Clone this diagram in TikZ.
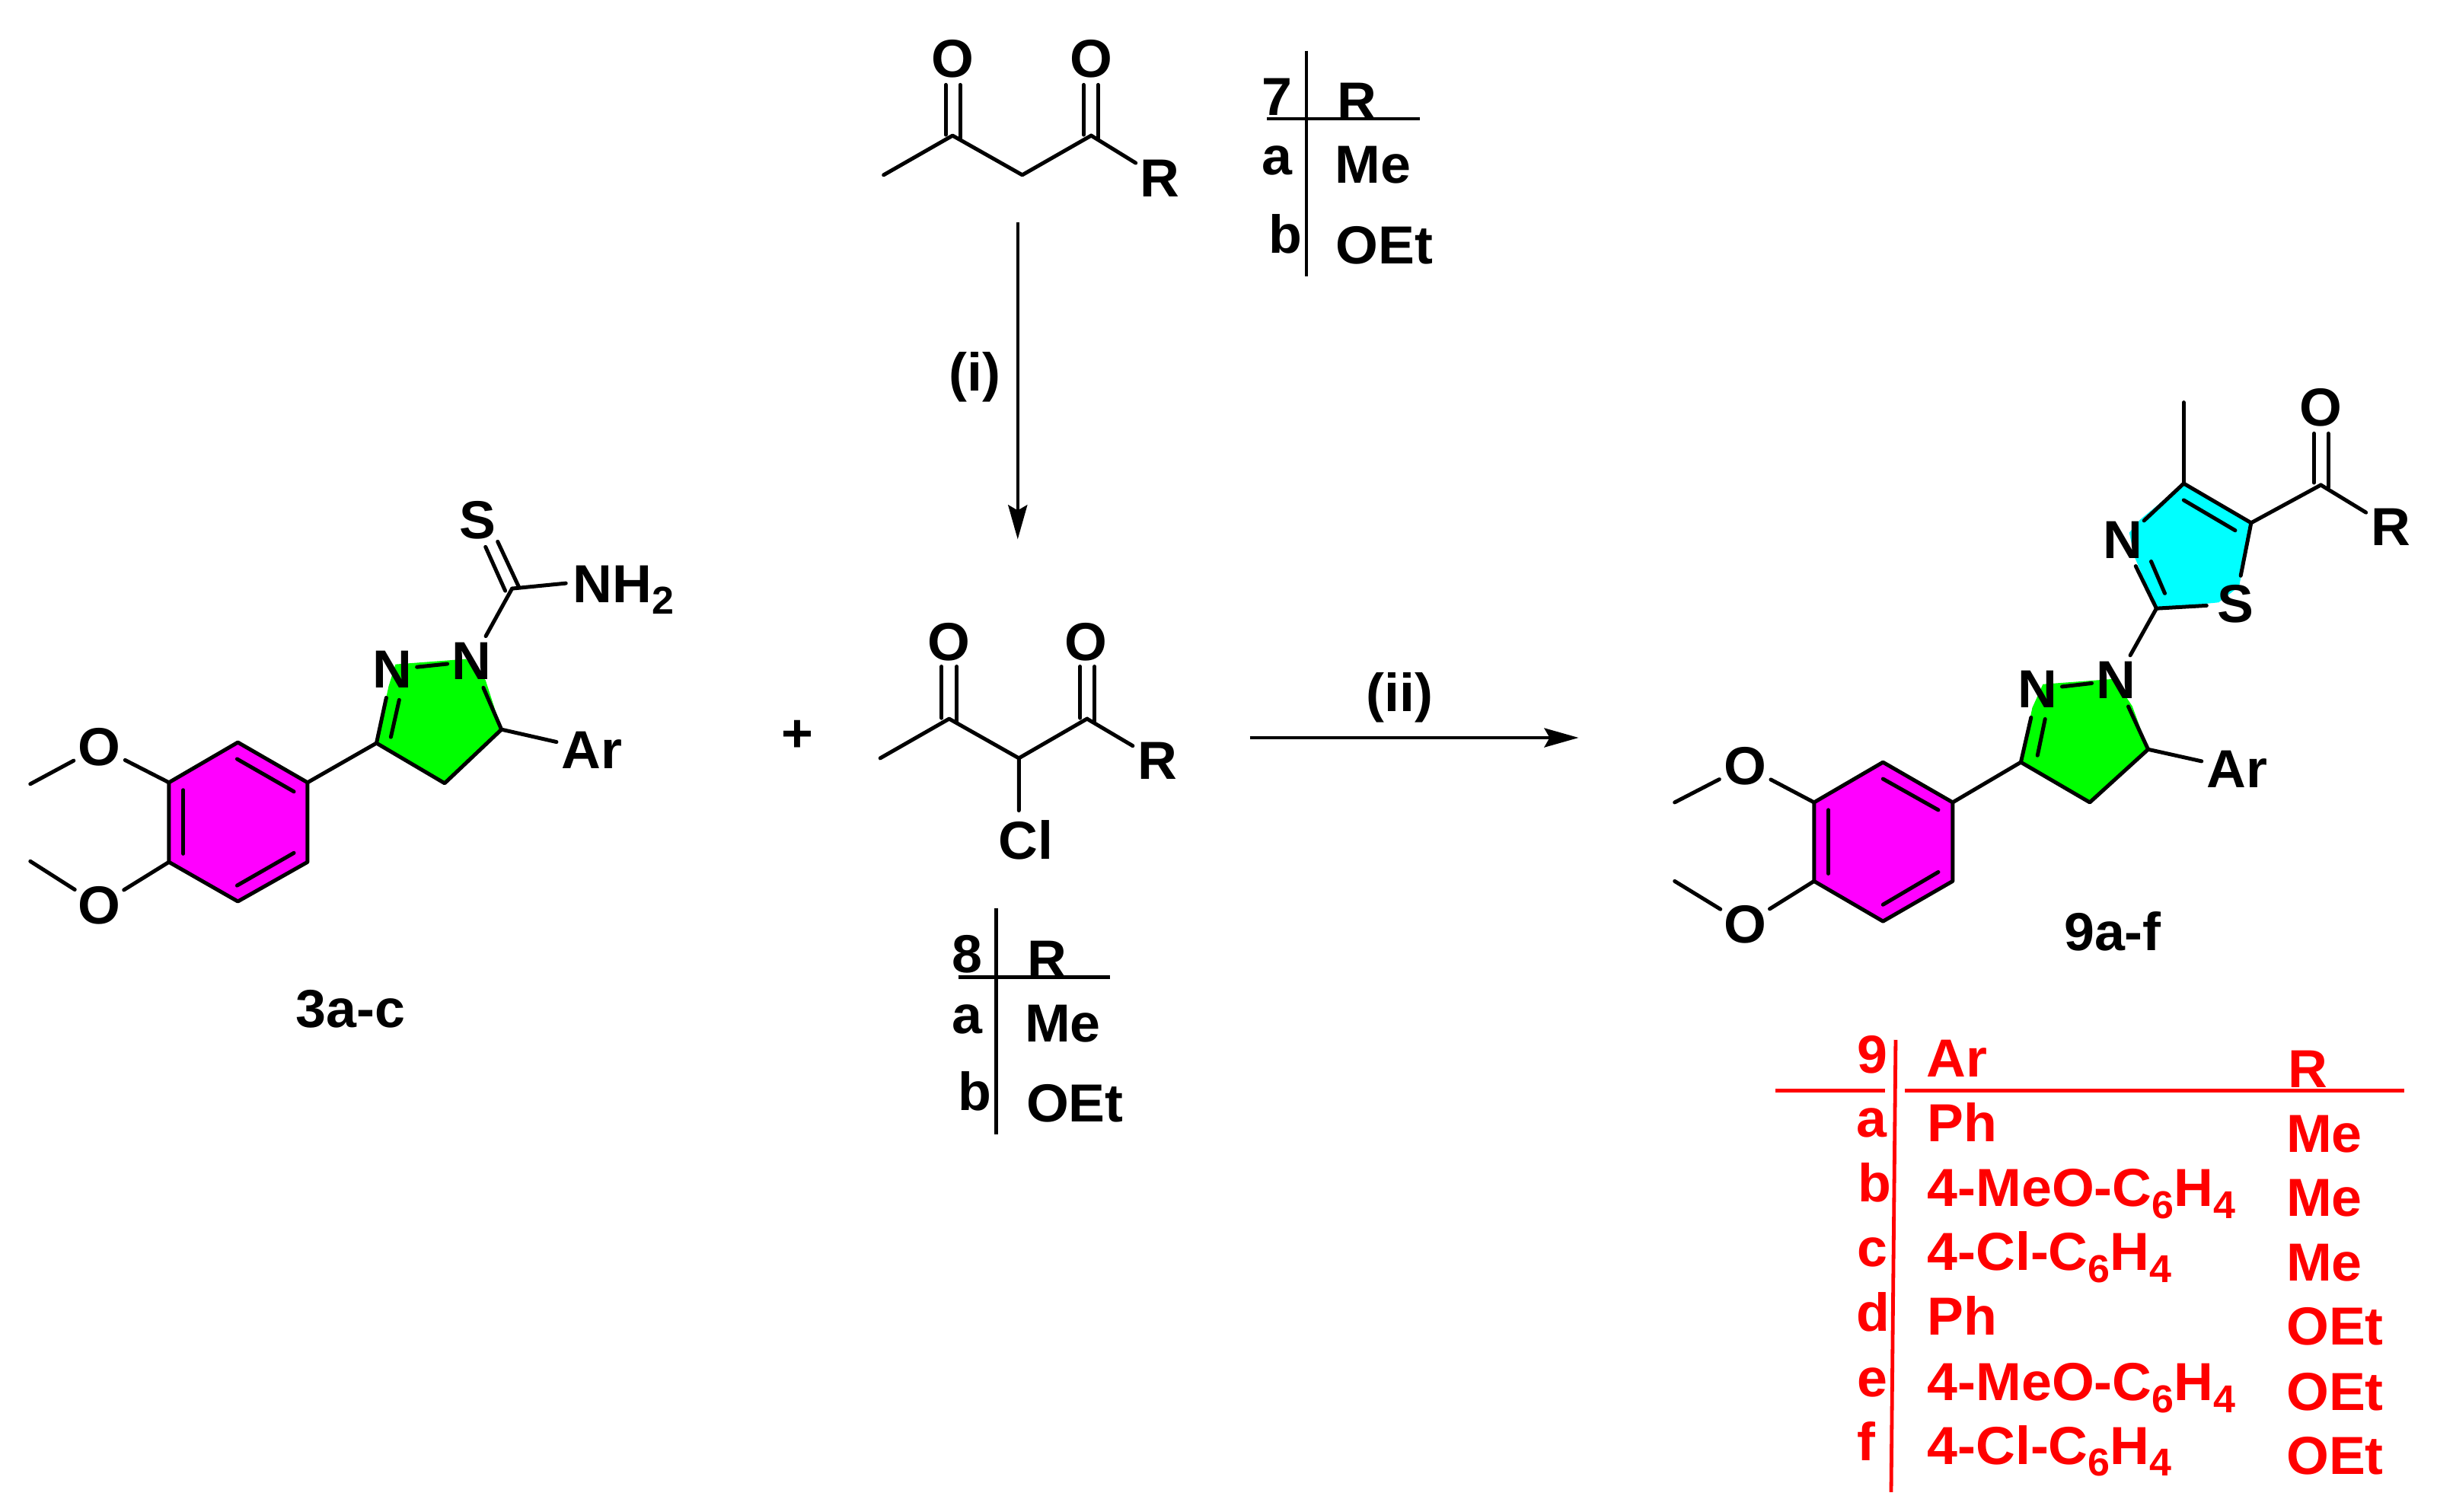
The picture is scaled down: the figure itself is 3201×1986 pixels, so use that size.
\documentclass[tikz,border=0pt]{standalone}
\usepackage{fontspec}
\setmainfont{Liberation Sans}[FakeStretch=1.02]
\usetikzlibrary{arrows.meta}
\newcommand{\chemsub}[1]{\raisebox{-4.5pt}{\fontsize{14.5}{14.5}\selectfont #1}}
\definecolor{ringmag}{RGB}{255,0,255}
\definecolor{ringgrn}{RGB}{0,255,0}
\definecolor{ringcya}{RGB}{0,255,255}
\definecolor{tabred}{RGB}{255,0,0}
\tikzset{
  bond/.style={draw=black,line width=0.5mm,line cap=round,line join=round},
  rule/.style={draw=black,line width=0.45mm},
  redrule/.style={draw=tabred,line width=0.48mm},
  rxn/.style={draw=black,line width=0.45mm,-{Stealth[length=4.5mm,width=2.5mm,inset=0.7mm]}},
  atom/.style={circle,inner sep=0pt,minimum size=7.4mm,yshift=0.2mm,font=\fontsize{20}{20}\selectfont\bfseries},
  lab/.style={inner sep=0pt,font=\fontsize{20}{20}\selectfont\bfseries},
  blab/.style={lab,yshift=-0.2mm},
  redlab/.style={lab,text=tabred,anchor=base west},
  redmid/.style={lab,text=tabred,anchor=base},
  region/.style args={#1 and #2}{shift={(#1,#2)},scale=0.995,shift={(-#1,-#2)}},
}
\tikzset{atom/.append style={yshift=-0.4mm}}
\begin{document}
\begin{tikzpicture}[x=0.01cm,y=-0.01cm]
\useasboundingbox (0,0) rectangle (3201,1986);

%% ---------- compound 3a-c ----------
\begin{scope}[region=0 and 600]
\coordinate (a1) at (314,977); \coordinate (a2) at (406,1030); \coordinate (a3) at (406,1135);
\coordinate (a4) at (314,1187); \coordinate (a5) at (223,1135); \coordinate (a6) at (223,1030);
\coordinate (ac3) at (497,978); \coordinate (ac4) at (587,1031); \coordinate (ac5) at (662,960);
\coordinate (acs) at (676,774);
\fill[ringmag] (a1)--(a2)--(a3)--(a4)--(a5)--(a6)--cycle;
\fill[ringgrn] (ac3)--(ac4)--(ac5)--(641,895)--(615,867)--(522,874)--(513,903)--cycle;
\node[atom] (ao1) at (131,981) {O};
\node[atom] (ao2) at (131,1190) {O};
\node[atom] (an2) at (518,879) {N};
\node[atom] (an1) at (623,868) {N};
\node[atom] (as) at (631,682) {S};
\node[atom] (aar) at (781,985) {Ar};
\node[lab,anchor=base west] (anh) at (756,792) {NH\chemsub{2}};
\coordinate (anhe) at (747,767);
\coordinate (ame1) at (40,1032); \coordinate (ame2) at (40,1134);
\draw[bond] (a1)--(a2)--(a3)--(a4)--(a5)--(a6)--cycle;
\coordinate (ai1) at (313,999); \coordinate (ai2) at (388,1042);
\coordinate (ai3) at (242,1040); \coordinate (ai4) at (242,1124);
\coordinate (ai5) at (313,1166); \coordinate (ai6) at (388,1123);
\draw[bond] (ai1)--(ai2); \draw[bond] (ai3)--(ai4); \draw[bond] (ai5)--(ai6);
\draw[bond] (a6)--(ao1); \draw[bond] (ao1)--(ame1);
\draw[bond] (a5)--(ao2); \draw[bond] (ao2)--(ame2);
\draw[bond] (a2)--(ac3);
\draw[bond] (ac3)--(ac4)--(ac5);
\draw[bond] (ac5)--(an1);
\draw[bond,shorten <=-1.5pt,shorten >=-1.5pt] (an2)--(an1);
\draw[bond] (ac3)--(an2);
\coordinate (ad1) at (516,970); \coordinate (ad2) at (527,921);
\draw[bond] (ad1)--(ad2);
\draw[bond] (ac5)--(aar);
\draw[bond] (acs)--(an1);
\draw[bond] (acs)--(anhe);
\coordinate (asa1) at (641,719); \coordinate (asa2) at (667,777);
\coordinate (asb1) at (657,712); \coordinate (asb2) at (685,772);
\draw[bond] (asa1)--(asa2); \draw[bond] (asb1)--(asb2);
\node[blab] (lab3) at (463,1327) {3a-c};
\end{scope}

%% ---------- diketone 7 ----------
\begin{scope}[region=1100 and 0]
\coordinate (bme) at (1161,231); \coordinate (bc1) at (1252,179); \coordinate (bc2) at (1344,231);
\coordinate (bc3) at (1435,179);
\node[atom] (bo1) at (1252,76) {O};
\node[atom] (bo2) at (1435,76) {O};
\node[atom] (br) at (1526,233) {R};
\draw[bond] (bme)--(bc1)--(bc2)--(bc3);
\draw[bond] (bc3)--(br);
\coordinate (bd1) at (1243,112); \coordinate (bd2) at (1243,178);
\coordinate (bd3) at (1262,112); \coordinate (bd4) at (1262,182);
\coordinate (bd5) at (1425,112); \coordinate (bd6) at (1425,178);
\coordinate (bd7) at (1444,112); \coordinate (bd8) at (1444,182);
\draw[bond] (bd1)--(bd2); \draw[bond] (bd3)--(bd4); \draw[bond] (bd5)--(bd6); \draw[bond] (bd7)--(bd8);

%% table 7
\coordinate (t7a) at (1719,67); \coordinate (t7b) at (1719,365);
\coordinate (t7c) at (1667,157); \coordinate (t7d) at (1869,157);
\draw[rule] (t7a)--(t7b); \draw[rule] (t7c)--(t7d);
\node[blab] (t7n) at (1680,126) {7};
\node[blab] (t7r) at (1786,132) {R};
\node[blab] (t7ka) at (1680,210) {a};
\node[blab] (t7ma) at (1807,216) {Me};
\node[blab] (t7kb) at (1691,307) {b};
\node[blab] (t7mb) at (1822,322) {OEt};

%% arrow (i)
\coordinate (ar1a) at (1338,293); \coordinate (ar1b) at (1338,712);
\draw[rxn] (ar1a)--(ar1b);
\node[blab] (li) at (1281,496) {(i)};
\end{scope}

%% ---------- chloro diketone 8 ----------
\begin{scope}[region=1000 and 780]
\node[lab] (plus) at (1048,968) {+};
\coordinate (cme) at (1157,997); \coordinate (cc1) at (1248,945); \coordinate (cc2) at (1340,997);
\coordinate (cc3) at (1430,945);
\node[atom] (co1) at (1248,842) {O};
\node[atom] (co2) at (1429,842) {O};
\node[atom] (cr) at (1523,998) {R};
\node[atom] (ccl) at (1349,1103) {Cl};
\draw[bond] (cme)--(cc1)--(cc2)--(cc3);
\draw[bond] (cc3)--(cr);
\draw[bond] (cc2)--(1340,1066) coordinate (cclend);
\coordinate (cd1) at (1238,876); \coordinate (cd2) at (1238,944);
\coordinate (cd3) at (1258,876); \coordinate (cd4) at (1258,948);
\coordinate (cd5) at (1421,876); \coordinate (cd6) at (1421,944);
\coordinate (cd7) at (1440,876); \coordinate (cd8) at (1440,948);
\draw[bond] (cd1)--(cd2); \draw[bond] (cd3)--(cd4); \draw[bond] (cd5)--(cd6); \draw[bond] (cd7)--(cd8);

%% table 8
\coordinate (t8a) at (1310,1195); \coordinate (t8b) at (1310,1494);
\coordinate (t8c) at (1260,1286); \coordinate (t8d) at (1460,1286);
\draw[rule] (t8a)--(t8b); \draw[rule] (t8c)--(t8d);
\node[blab] (t8n) at (1272,1254) {8};
\node[blab] (t8r) at (1377,1261) {R};
\node[blab] (t8ka) at (1272,1340) {a};
\node[blab] (t8ma) at (1398,1345) {Me};
\node[blab] (t8kb) at (1282,1435) {b};
\node[blab] (t8mb) at (1414,1451) {OEt};

%% arrow (ii)
\coordinate (ar2a) at (1645,970); \coordinate (ar2b) at (2079,970);
\draw[rxn] (ar2a)--(ar2b);
\node[blab] (lii) at (1843,915) {(ii)};
\end{scope}

%% ---------- compound 9a-f ----------
\begin{scope}[region=2150 and 450]
\coordinate (d1) at (2475,1004); \coordinate (d2) at (2567,1057); \coordinate (d3) at (2567,1161);
\coordinate (d4) at (2475,1214); \coordinate (d5) at (2384,1161); \coordinate (d6) at (2384,1057);
\coordinate (dc3) at (2657,1004); \coordinate (dc4) at (2748,1057); \coordinate (dc5) at (2825,987);
\coordinate (e2) at (2836,801); \coordinate (e4) at (2872,636); \coordinate (e5) at (2961,688);
\coordinate (eac) at (3053,638);
\fill[ringmag] (d1)--(d2)--(d3)--(d4)--(d5)--(d6)--cycle;
\fill[ringgrn] (dc3)--(dc4)--(dc5)--(2804,930)--(2780,894)--(2686,901)--(2672,932)--cycle;
\fill[ringcya] (e2)--(2807,733)--(2800,701)--(2814,684)--(e4)--(e5)--(2945,772)--(2918,793)--cycle;
\node[atom] (do1) at (2293,1007) {O};
\node[atom] (do2) at (2293,1216) {O};
\node[atom] (dn2) at (2679,906) {N};
\node[atom] (dn1) at (2783,894) {N};
\node[atom] (dar) at (2942,1011) {Ar};
\node[atom] (en) at (2792,709) {N};
\node[atom] (es) at (2940,793) {S};
\node[atom] (eo) at (3053,534) {O};
\node[atom] (er) at (3145,692) {R};
\coordinate (dme1) at (2200,1057); \coordinate (dme2) at (2200,1161);
\draw[bond] (d1)--(d2)--(d3)--(d4)--(d5)--(d6)--cycle;
\coordinate (di1) at (2475,1026); \coordinate (di2) at (2548,1067);
\coordinate (di3) at (2403,1067); \coordinate (di4) at (2403,1151);
\coordinate (di5) at (2475,1192); \coordinate (di6) at (2548,1149);
\draw[bond] (di1)--(di2); \draw[bond] (di3)--(di4); \draw[bond] (di5)--(di6);
\draw[bond] (d6)--(do1); \draw[bond] (do1)--(dme1);
\draw[bond] (d5)--(do2); \draw[bond] (do2)--(dme2);
\draw[bond] (d2)--(dc3);
\draw[bond] (dc3)--(dc4)--(dc5);
\draw[bond] (dc5)--(dn1);
\draw[bond,shorten <=-1.5pt,shorten >=-1.5pt] (dn2)--(dn1);
\draw[bond] (dc3)--(dn2);
\coordinate (dd1) at (2679,995); \coordinate (dd2) at (2689,947);
\draw[bond] (dd1)--(dd2);
\draw[bond] (dc5)--(dar);
\draw[bond] (e2)--(dn1);
\draw[bond] (e2)--(en);
\coordinate (ed1) at (2847,781); \coordinate (ed2) at (2829,739);
\draw[bond] (ed1)--(ed2);
\draw[bond] (e4)--(en);
\draw[bond] (e4)--(e5);
\coordinate (ed3) at (2872,658); \coordinate (ed4) at (2940,698);
\draw[bond] (ed3)--(ed4);
\draw[bond] (e5)--(es);
\draw[bond] (e2)--(es);
\coordinate (eme) at (2872,529);
\draw[bond] (e4)--(eme);
\draw[bond] (e5)--(eac);
\draw[bond] (eac)--(er);
\coordinate (ed5) at (3044,570); \coordinate (ed6) at (3044,635);
\coordinate (ed7) at (3063,570); \coordinate (ed8) at (3063,641);
\draw[bond] (ed5)--(ed6); \draw[bond] (ed7)--(ed8);
\node[lab] (lab9) at (2778,1227) {9a-f};
\end{scope}

%% ---------- red table 9 ----------
\begin{scope}[region=2300 and 1330]
\coordinate (t9a) at (2491,1366); \coordinate (t9b) at (2485,1963);
\coordinate (t9c) at (2332,1433); \coordinate (t9d) at (2477,1433);
\coordinate (t9e) at (2503,1433); \coordinate (t9f) at (3162,1433);
\draw[redrule] (t9a)--(t9b); \draw[redrule] (t9c)--(t9d); \draw[redrule] (t9e)--(t9f);
\node[redmid] (n9) at (2460,1410) {9};
\node[redlab] (har) at (2531,1415) {Ar};
\node[redlab] (hr) at (3008,1429) {R};
\node[redmid] (ka) at (2459,1494) {a};
\node[redmid] (kb) at (2463,1580) {b};
\node[redmid] (kc) at (2460,1665) {c};
\node[redmid] (kd) at (2461,1751) {d};
\node[redmid] (ke) at (2460,1837) {e};
\node[redmid] (kf) at (2452,1921) {f};
\node[redlab] (ara) at (2532,1500) {Ph};
\node[redlab] (arb) at (2532,1586) {4-MeO-C\chemsub{6}H\chemsub{4}};
\node[redlab] (arc) at (2532,1670) {4-Cl-C\chemsub{6}H\chemsub{4}};
\node[redlab] (ard) at (2532,1756) {Ph};
\node[redlab] (are) at (2532,1842) {4-MeO-C\chemsub{6}H\chemsub{4}};
\node[redlab] (arf) at (2532,1926) {4-Cl-C\chemsub{6}H\chemsub{4}};
\node[redlab] (ra) at (3006,1514) {Me};
\node[redlab] (rb) at (3006,1599) {Me};
\node[redlab] (rc) at (3006,1684) {Me};
\node[redlab] (rd) at (3006,1769) {OEt};
\node[redlab] (re) at (3006,1855) {OEt};
\node[redlab] (rf) at (3006,1940) {OEt};
\end{scope}
\end{tikzpicture}
\end{document}
